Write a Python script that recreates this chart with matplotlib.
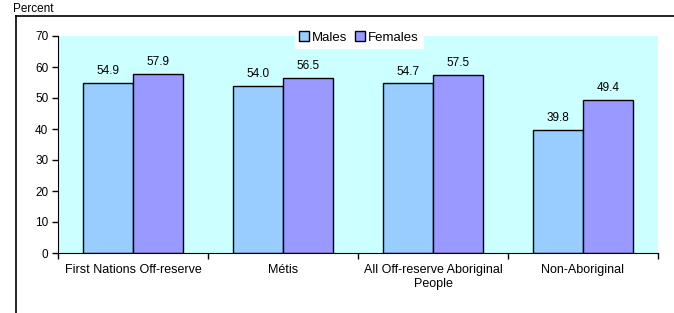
import matplotlib
matplotlib.use("Agg")
import matplotlib.pyplot as plt
from matplotlib.lines import Line2D
import numpy as np

# data
categories = ["First Nations Off-reserve", "Métis", "All Off-reserve Aboriginal\nPeople", "Non-Aboriginal"]
males = [54.9, 54.0, 54.7, 39.8]
females = [57.9, 56.5, 57.5, 49.4]
yticks = [0, 10, 20, 30, 40, 50, 60, 70]

plt.rcParams['font.family'] = ['Liberation Sans', 'DejaVu Sans']

W, H = 674, 313
fig = plt.figure(figsize=(W / 100, H / 100), dpi=100)
# axes placed in pixel coords: left 58, right 658, top 36, bottom 253
ax = fig.add_axes([58 / W, 1 - 253 / H, 600 / W, 217 / H])
ax.set_facecolor("#CCFFFF")

x = np.arange(len(categories))
bw = 1 / 3
b1 = ax.bar(x - bw / 2, males, bw, color="#99CCFF", edgecolor="black", linewidth=1, label="Males")
b2 = ax.bar(x + bw / 2, females, bw, color="#9999FF", edgecolor="black", linewidth=1, label="Females")

for bars, vals in ((b1, males), (b2, females)):
    for r, v in zip(bars, vals):
        ax.text(r.get_x() + r.get_width() / 2, v + 1.8, f"{v:.1f}", ha="center", va="bottom", fontsize=8.5)

ax.set_xlim(-0.5, len(categories) - 0.5)
ax.set_ylim(0, 70)
ax.set_yticks(yticks)
ax.set_yticklabels([str(t) for t in yticks], fontsize=8.5)
ax.set_xticks(x)
ax.set_xticklabels(categories, fontsize=9, linespacing=1.2)
ax.tick_params(axis="x", length=0, pad=8)
ax.tick_params(axis="y", length=4, width=1, pad=3)
# category boundary ticks
ax.set_xticks(np.arange(len(categories) + 1) - 0.5, minor=True)
ax.tick_params(axis="x", which="minor", length=4, width=1, direction="out")

ax.spines["top"].set_visible(False)
ax.spines["right"].set_visible(False)

leg = ax.legend(loc="center", bbox_to_anchor=(359 / W, 1 - 37.5 / H), bbox_transform=fig.transFigure,
                ncol=2, fontsize=9.5, frameon=True, fancybox=False, framealpha=1, edgecolor="white",
                handlelength=0.7, handleheight=0.7, handletextpad=0.25, columnspacing=0.6,
                borderpad=0.3, borderaxespad=0)

# outer frame: top and left lines only
fig.add_artist(Line2D([16 / W, 1], [1 - 15.5 / H, 1 - 15.5 / H], transform=fig.transFigure, color="black", lw=1.2))
fig.add_artist(Line2D([16 / W, 16 / W], [0, 1 - 15.5 / H], transform=fig.transFigure, color="black", lw=1.2))

fig.text(13 / W, 1 - 8.5 / H, "Percent", fontsize=8.5, va="center", ha="left")

fig.savefig("out.png", dpi=100)
